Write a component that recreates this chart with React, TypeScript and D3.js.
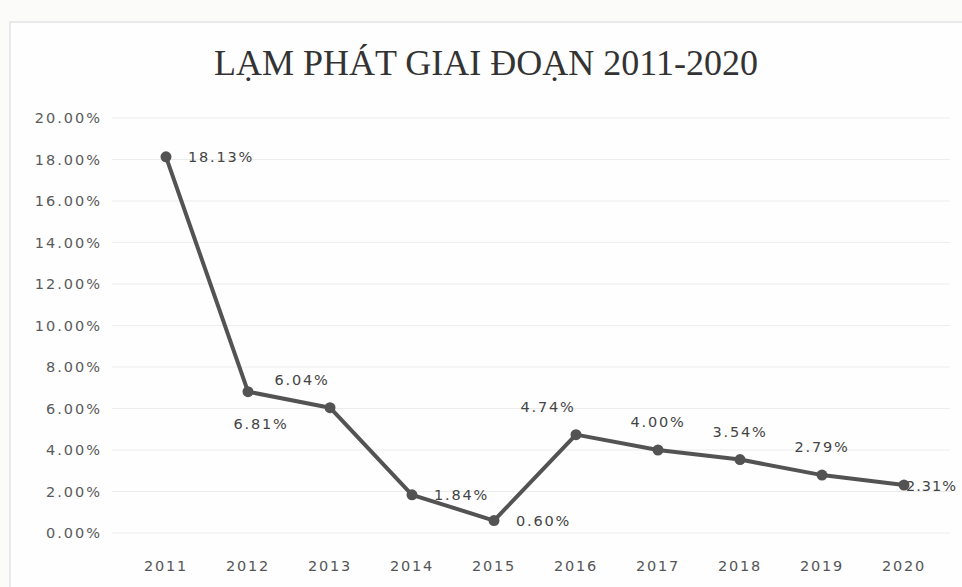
import React from "react";
import * as d3 from "d3";

const years = ["2011", "2012", "2013", "2014", "2015", "2016", "2017", "2018", "2019", "2020"];
const inflation = [18.13, 6.81, 6.04, 1.84, 0.6, 4.74, 4.0, 3.54, 2.79, 2.31];
const yTicks = [0, 2, 4, 6, 8, 10, 12, 14, 16, 18, 20];
const labelPlacement = ["right", "below", "aboveLeft", "right", "right", "aboveLeft", "above", "above", "above", "onRight"];
const title = "LẠM PHÁT GIAI ĐOẠN 2011-2020";

const W = 962;
const H = 587;

export default function App() {
  const x = d3.scaleBand<string>().domain(years).range([125, 945]).padding(0);
  const y = d3.scaleLinear().domain([0, 20]).range([533, 118]);
  const cx = (d: string) => (x(d) as number) + x.bandwidth() / 2;
  const line = d3
    .line<number>()
    .x((_, i) => cx(years[i]))
    .y((v) => y(v));
  const fmt = (v: number) => v.toFixed(2) + "%";
  const labelFont = "'DejaVu Sans', 'Open Sans', sans-serif";

  const offsets: Record<string, { dx: number; dy: number; anchor: string; ls: number }> = {
    right: { dx: 22, dy: 5, anchor: "start", ls: 1.8 },
    onRight: { dx: 2, dy: 6, anchor: "start", ls: 1.0 },
    below: { dx: 13, dy: 37, anchor: "middle", ls: 1.8 },
    above: { dx: 0, dy: -23, anchor: "middle", ls: 1.8 },
    aboveLeft: { dx: -28, dy: -23, anchor: "middle", ls: 1.8 },
  };

  return (
    <div style={{ position: "fixed", left: 0, top: 0, width: W, height: H }}>
      <svg width={W} height={H} style={{ display: "block" }}>
        <rect x={0} y={0} width={W} height={H} fill="#fbfbfa" />
        <rect x={10} y={22} width={W - 4} height={H} fill="#fefefe" stroke="#e4e4e4" strokeWidth={1.5} />
        <text
          x={486}
          y={75}
          textAnchor="middle"
          fontFamily="'Liberation Serif', 'Times New Roman', serif"
          fontSize={36}
          fill="#333"
        >
          {title}
        </text>
        {yTicks.map((t) => (
          <g key={t}>
            <line x1={112} x2={950} y1={y(t)} y2={y(t)} stroke="#ececec" strokeWidth={1.2} />
            <text
              x={102}
              y={y(t) + 5}
              textAnchor="end"
              fontFamily={labelFont}
              fontSize={14.5}
              letterSpacing={2}
              fill="#5a5a5a"
            >
              {fmt(t)}
            </text>
          </g>
        ))}
        {years.map((yr) => (
          <text
            key={yr}
            x={cx(yr)}
            y={571}
            textAnchor="middle"
            fontFamily={labelFont}
            fontSize={14.5}
            letterSpacing={1.8}
            fill="#555"
          >
            {yr}
          </text>
        ))}
        <path d={line(inflation) || ""} fill="none" stroke="#535353" strokeWidth={4} strokeLinejoin="round" />
        {inflation.map((v, i) => (
          <circle key={i} cx={cx(years[i])} cy={y(v)} r={5.5} fill="#535353" />
        ))}
        {inflation.map((v, i) => {
          const o = offsets[labelPlacement[i]];
          return (
            <text
              key={"l" + i}
              x={cx(years[i]) + o.dx}
              y={y(v) + o.dy}
              textAnchor={o.anchor}
              fontFamily={labelFont}
              fontSize={14.5}
              letterSpacing={o.ls}
              fill="#444"
            >
              {fmt(v)}
            </text>
          );
        })}
      </svg>
    </div>
  );
}
